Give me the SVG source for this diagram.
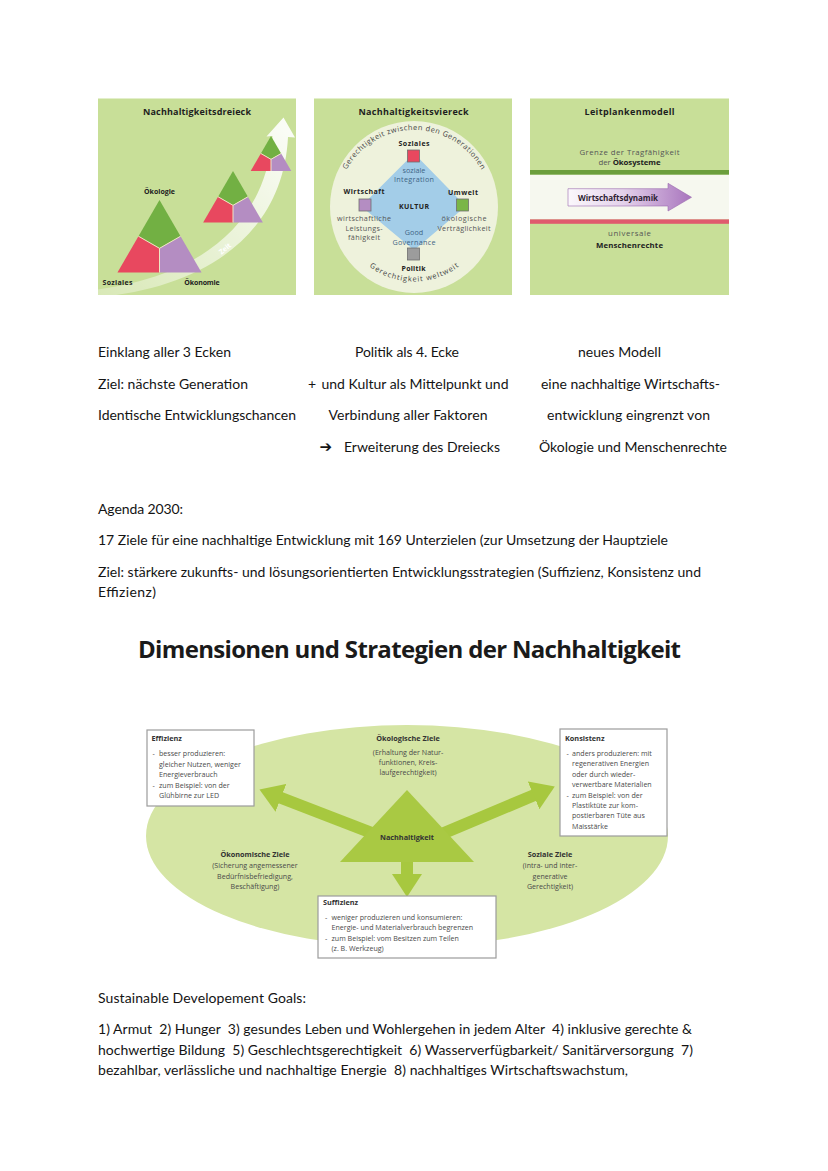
<svg xmlns="http://www.w3.org/2000/svg" width="828" height="1171" viewBox="0 0 828 1171">
<defs>
<style>
.body{font-family:Lato,"Liberation Sans",sans-serif;font-size:14px;fill:#141414;white-space:pre}
.lbl{font-family:"Open Sans","Liberation Sans",sans-serif}
.pt{font-size:9px;font-weight:700;fill:#1e1e1e;text-anchor:middle}
.pb{font-size:7px;font-weight:700;fill:#222;text-anchor:middle}
.ps{font-size:7.2px;fill:#555;text-anchor:middle}
.pd{font-size:7.2px;fill:#3f6585;text-anchor:middle}
.dt{font-size:7.1px;fill:#4a4a4a}
.dc{font-size:7.1px;fill:#4a4a4a;text-anchor:middle}
.dh{font-size:7.3px;font-weight:700;fill:#333}
.dhc{font-size:7.3px;font-weight:700;fill:#333;text-anchor:middle}
.box{fill:#fff;stroke:#9c9c9c;stroke-width:1.2}
.panel{fill:#c8df98}
.sq{stroke:#6f6f6f;stroke-width:0.8}
.conn{stroke:#a7c83f;stroke-width:12;fill:none;marker-end:url(#head)}
</style>
<linearGradient id="zeitGrad" x1="98" y1="293" x2="284" y2="121" gradientUnits="userSpaceOnUse">
<stop offset="0" stop-color="#fff" stop-opacity="0.3"/>
<stop offset="1" stop-color="#fff" stop-opacity="0.92"/>
</linearGradient>
<linearGradient id="wdGrad" x1="568" y1="0" x2="692" y2="0" gradientUnits="userSpaceOnUse">
<stop offset="0" stop-color="#fbf8fc"/>
<stop offset="0.45" stop-color="#e3d1ea"/>
<stop offset="1" stop-color="#a874bd"/>
</linearGradient>
<g id="tri">
<polygon points="0,0 14.5,25 0,33.33 -14.5,25" fill="#72b043"/>
<polygon points="-14.5,25 0,33.33 0,50 -29,50" fill="#e8485f"/>
<polygon points="0,33.33 14.5,25 29,50 0,50" fill="#b48dc2"/>
<path d="M-14.5,25 L0,33.33 L14.5,25 M0,33.33 L0,50" stroke="#efe6c4" stroke-width="1" vector-effect="non-scaling-stroke" fill="none"/>
</g>
<marker id="head" markerUnits="userSpaceOnUse" markerWidth="23" markerHeight="30" viewBox="0 0 23 30" refX="1" refY="15" orient="auto">
<path d="M0,0 L23,15 L0,30 z" fill="#a7c83f"/>
</marker>
<path id="arcTop" d="M337,207 A77,77 0 0 1 491,207"/>
<path id="arcBot" d="M339.5,207 A74.5,74.5 0 0 0 488.5,207"/>
</defs>
<rect width="828" height="1171" fill="#fff"/>

<!-- Panel 1 -->
<g id="nachhaltigkeitsdreieck">
<rect class="panel" x="98" y="98.5" width="198" height="196.5"/>
<text class="lbl pt" x="197" y="114.5" textLength="108">Nachhaltigkeitsdreieck</text>
<path d="M98,289.5 C196,276 265,228 272.5,136 L266.5,136.5 L283.5,117.5 L295,137.5 L288,137 C283,237 201,288 98,297 Z" fill="url(#zeitGrad)"/>
<text class="lbl" x="0" y="0" transform="translate(226.5,250.5) rotate(-40)" font-size="7" font-weight="700" fill="#fff" text-anchor="middle">Zeit</text>
<use href="#tri" transform="translate(159.5,200) scale(1.45)"/>
<use href="#tri" transform="translate(233,171) scale(1.03)"/>
<use href="#tri" transform="translate(271,136) scale(0.7)"/>
<text class="lbl pb" x="159.5" y="193.5" textLength="31">Ökologie</text>
<text class="lbl pb" x="117.5" y="285" textLength="30">Soziales</text>
<text class="lbl pb" x="202" y="285" textLength="35.5">Ökonomie</text>
</g>

<!-- Panel 2 -->
<g id="nachhaltigkeitsviereck">
<rect class="panel" x="314" y="98.5" width="198" height="196.5"/>
<text class="lbl pt" x="413.5" y="114.5" textLength="110">Nachhaltigkeitsviereck</text>
<ellipse cx="414" cy="207" rx="84" ry="86" fill="#eef2dc"/>
<polygon points="414,159 460,206 414,245 367,206" fill="#a3cde8" stroke="#a3cde8" stroke-width="8" stroke-linejoin="round"/>
<text class="lbl" font-size="7.4" fill="#444" text-anchor="middle"><textPath href="#arcTop" startOffset="50%" textLength="164">Gerechtigkeit zwischen den Generationen</textPath></text>
<text class="lbl" font-size="7.4" fill="#444" text-anchor="middle"><textPath href="#arcBot" startOffset="50%" textLength="96">Gerechtigkeit weltweit</textPath></text>
<rect class="sq" x="407.5" y="150" width="12" height="12" fill="#e8485f"/>
<rect class="sq" x="359" y="199" width="12" height="12" fill="#b48dc2"/>
<rect class="sq" x="456.5" y="199" width="12" height="12" fill="#7ab648"/>
<rect class="sq" x="407.5" y="248" width="12" height="12" fill="#9c9c9c"/>
<text class="lbl pb" x="414" y="146" textLength="31">Soziales</text>
<text class="lbl pd" x="414" y="172.5">soziale</text>
<text class="lbl pd" x="414" y="181.5" textLength="40">Integration</text>
<text class="lbl pb" x="364" y="194" textLength="41">Wirtschaft</text>
<text class="lbl ps" x="364" y="221" textLength="54">wirtschaftliche</text>
<text class="lbl ps" x="364" y="230.5" textLength="37">Leistungs-</text>
<text class="lbl ps" x="364" y="239.5" textLength="32">fähigkeit</text>
<text class="lbl pb" x="463" y="195" textLength="30">Umwelt</text>
<text class="lbl ps" x="464" y="221" textLength="45">ökologische</text>
<text class="lbl ps" x="464" y="230.5" textLength="53">Verträglichkeit</text>
<text class="lbl pb" x="414" y="208.5" fill="#203a52" textLength="30">KULTUR</text>
<text class="lbl pd" x="414" y="235">Good</text>
<text class="lbl pd" x="414" y="244.5" textLength="43">Governance</text>
<text class="lbl pb" x="413.5" y="270.5" textLength="24">Politik</text>
</g>

<!-- Panel 3 -->
<g id="leitplankenmodell">
<rect class="panel" x="530" y="98.5" width="199" height="196.5"/>
<text class="lbl pt" x="629.5" y="114.5" textLength="90">Leitplankenmodell</text>
<text class="lbl" x="629.5" y="154.5" font-size="7.8" fill="#555" text-anchor="middle" textLength="100">Grenze der Tragfähigkeit</text>
<text class="lbl" x="629.5" y="164.5" font-size="7.8" fill="#555" text-anchor="middle" textLength="62">der <tspan font-weight="700" fill="#222">Ökosysteme</tspan></text>
<rect x="530" y="170" width="199" height="4.8" fill="#6b9e3c"/>
<rect x="530" y="174.8" width="199" height="44.6" fill="#f6f8ef"/>
<rect x="530" y="219.4" width="199" height="4.4" fill="#e05a6e"/>
<polygon points="568,188.7 668,188.7 668,183.3 691.5,197.3 668,211 668,206 568,206" fill="url(#wdGrad)" stroke="#9b6aae" stroke-width="0.6"/>
<text class="lbl" x="578" y="200.5" font-size="8" font-weight="700" fill="#2e2233" textLength="80">Wirtschaftsdynamik</text>
<text class="lbl" x="629.5" y="236" font-size="7.8" fill="#555" text-anchor="middle" textLength="43">universale</text>
<text class="lbl" x="629.5" y="247.5" font-size="7.8" font-weight="700" fill="#222" text-anchor="middle" textLength="67">Menschenrechte</text>
</g>

<!-- Text rows -->
<g id="beschreibung">
<text class="body" x="98" y="357" textLength="133">Einklang aller 3 Ecken</text>
<text class="body" x="355" y="357" textLength="104">Politik als 4. Ecke</text>
<text class="body" x="578" y="357" textLength="83">neues Modell</text>
<text class="body" x="98" y="388.5" textLength="150">Ziel: nächste Generation</text>
<text class="body" x="308" y="388.5">+</text>
<text class="body" x="321.5" y="388.5" textLength="187">und Kultur als Mittelpunkt und</text>
<text class="body" x="541" y="388.5" textLength="179">eine nachhaltige Wirtschafts-</text>
<text class="body" x="98" y="420" textLength="198">Identische Entwicklungschancen</text>
<text class="body" x="328.5" y="420" textLength="159">Verbindung aller Faktoren</text>
<text class="body" x="547" y="420" textLength="163">entwicklung eingrenzt von</text>
<text x="319.5" y="452" font-family="'DejaVu Sans',sans-serif" font-size="15" font-weight="700" fill="#141414">➔</text>
<text class="body" x="344" y="451.5" textLength="156">Erweiterung des Dreiecks</text>
<text class="body" x="539" y="451.5" textLength="188">Ökologie und Menschenrechte</text>
</g>

<g id="agenda">
<text class="body" x="98" y="514" textLength="85">Agenda 2030:</text>
<text class="body" x="98" y="545" textLength="570">17 Ziele für eine nachhaltige Entwicklung mit 169 Unterzielen (zur Umsetzung der Hauptziele</text>
<text class="body" x="98" y="577" textLength="603">Ziel: stärkere zukunfts- und lösungsorientierten Entwicklungsstrategien (Suffizienz, Konsistenz und</text>
<text class="body" x="98" y="597" textLength="58">Effizienz)</text>
</g>

<text id="titel" x="409.5" y="658" font-family="'Open Sans','Liberation Sans',sans-serif" font-size="24" font-weight="700" fill="#1a1a1a" text-anchor="middle" textLength="543">Dimensionen und Strategien der Nachhaltigkeit</text>

<!-- Bottom diagram -->
<g id="ellipse-ziele">
<ellipse cx="407" cy="836" rx="261" ry="111" fill="#d5e5a4"/>
</g>
<g id="oekologische-ziele">
<text class="lbl dhc" x="408" y="741">Ökologische Ziele</text>
<text class="lbl dc" x="408" y="755">(Erhaltung der Natur-</text>
<text class="lbl dc" x="408" y="765">funktionen, Kreis-</text>
<text class="lbl dc" x="408" y="775">laufgerechtigkeit)</text>
</g>
<g id="oekonomische-ziele">
<text class="lbl dhc" x="255" y="857">Ökonomische Ziele</text>
<text class="lbl dc" x="255" y="868">(Sicherung angemessener</text>
<text class="lbl dc" x="255" y="878.5">Bedürfnisbefriedigung,</text>
<text class="lbl dc" x="255" y="889">Beschäftigung)</text>
</g>
<g id="soziale-ziele">
<text class="lbl dhc" x="550" y="857">Soziale Ziele</text>
<text class="lbl dc" x="550" y="868">(intra- und inter-</text>
<text class="lbl dc" x="550" y="878.5">generative</text>
<text class="lbl dc" x="550" y="889">Gerechtigkeit)</text>
</g>

<g id="connectors">
<line class="conn" x1="372" y1="833" x2="280" y2="797.5"/>
<line class="conn" x1="444" y1="833" x2="534.5" y2="795"/>
<line class="conn" x1="407" y1="850" x2="407" y2="875"/>
</g>

<g id="nachhaltigkeit">
<polygon points="407,790 340,862 474,862" fill="#a9c943"/>
<text class="lbl dhc" x="407" y="839.5" fill="#2b3a12">Nachhaltigkeit</text>
</g>

<g id="effizienz">
<rect class="box" x="147" y="730" width="107" height="76"/>
<text class="lbl dh" x="151.5" y="741">Effizienz</text>
<text class="lbl dt" x="152.5" y="756">-</text><text class="lbl dt" x="159" y="756">besser produzieren:</text>
<text class="lbl dt" x="159" y="766.5">gleicher Nutzen, weniger</text>
<text class="lbl dt" x="159" y="777">Energieverbrauch</text>
<text class="lbl dt" x="152.5" y="787.5">-</text><text class="lbl dt" x="159" y="787.5">zum Beispiel: von der</text>
<text class="lbl dt" x="159" y="798">Glühbirne zur LED</text>
</g>

<g id="konsistenz">
<rect class="box" x="560" y="729" width="107" height="107"/>
<text class="lbl dh" x="565" y="741">Konsistenz</text>
<text class="lbl dt" x="566.5" y="756">-</text><text class="lbl dt" x="572" y="756">anders produzieren: mit</text>
<text class="lbl dt" x="572" y="766.4">regenerativen Energien</text>
<text class="lbl dt" x="572" y="776.8">oder durch wieder-</text>
<text class="lbl dt" x="572" y="787.2">verwertbare Materialien</text>
<text class="lbl dt" x="566.5" y="797.6">-</text><text class="lbl dt" x="572" y="797.6">zum Beispiel: von der</text>
<text class="lbl dt" x="572" y="808">Plastiktüte zur kom-</text>
<text class="lbl dt" x="572" y="818.4">postierbaren Tüte aus</text>
<text class="lbl dt" x="572" y="828.8">Maisstärke</text>
</g>

<g id="suffizienz">
<rect class="box" x="318" y="896" width="178" height="62"/>
<text class="lbl dh" x="323" y="905">Suffizienz</text>
<text class="lbl dt" x="325" y="919.5">-</text><text class="lbl dt" x="331.5" y="919.5">weniger produzieren und konsumieren:</text>
<text class="lbl dt" x="331.5" y="930">Energie- und Materialverbrauch begrenzen</text>
<text class="lbl dt" x="325" y="940.5">-</text><text class="lbl dt" x="331.5" y="940.5">zum Beispiel: vom Besitzen zum Teilen</text>
<text class="lbl dt" x="331.5" y="951">(z. B. Werkzeug)</text>
</g>

<g id="sdg">
<text class="body" x="98" y="1003" textLength="208">Sustainable Developement Goals:</text>
<text class="body" x="98" y="1034" textLength="594" xml:space="preserve">1) Armut  2) Hunger  3) gesundes Leben und Wohlergehen in jedem Alter  4) inklusive gerechte &amp;</text>
<text class="body" x="98" y="1054.5" textLength="595" xml:space="preserve">hochwertige Bildung  5) Geschlechtsgerechtigkeit  6) Wasserverfügbarkeit/ Sanitärversorgung  7)</text>
<text class="body" x="98" y="1075" textLength="530" xml:space="preserve">bezahlbar, verlässliche und nachhaltige Energie  8) nachhaltiges Wirtschaftswachstum,</text>
</g>
</svg>
